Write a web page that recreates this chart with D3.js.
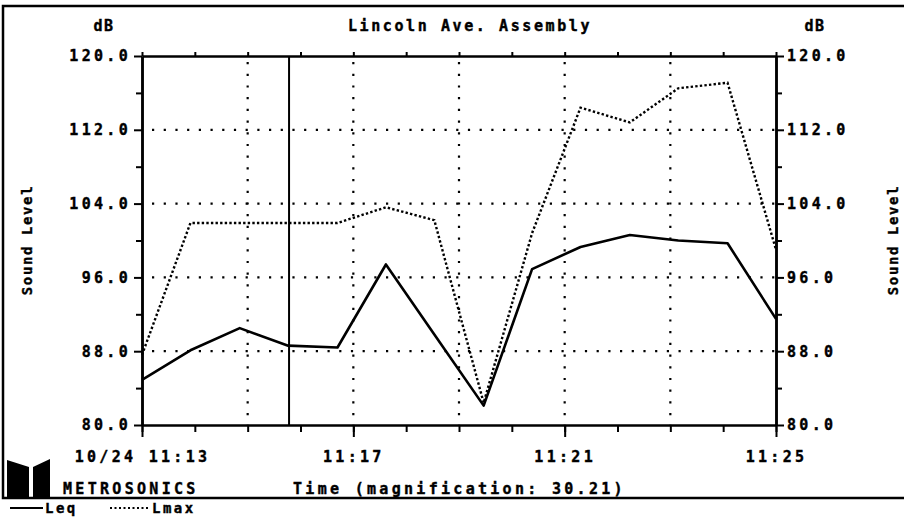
<!DOCTYPE html>
<html lang="en">
<head>
<meta charset="UTF-8">
<title>Lincoln Ave. Assembly</title>
<script src="https://d3js.org/d3.v7.min.js"></script>
<style>
  body { margin: 0; background: #fff; }
  svg text {
    font-family: "DejaVu Sans Mono", monospace;
    font-weight: bold;
    fill: #000;
    stroke: #000;
    stroke-width: 0.4px;
  }
  .axis path, .axis line { stroke: #000; }
</style>
</head>
<body>
<svg id="chart" width="904" height="518"></svg>
<script>
// Sample times (10/24) and sound levels in dB
const sampleTimes = ["11:13:00", "11:13:55", "11:14:51", "11:15:46", "11:16:42", "11:17:37", "11:18:32",
                     "11:19:28", "11:20:23", "11:21:18", "11:22:14", "11:23:09", "11:24:05", "11:25:00"];
const leq  = [84.9, 88.1, 90.5, 88.6, 88.4, 97.4, 89.8, 82.1, 96.9, 99.3, 100.6, 100.0, 99.7, 91.5];
const lmax = [87.6, 101.9, 101.9, 101.9, 101.9, 103.6, 102.2, 82.4, 100.8, 114.4, 112.8, 116.5, 117.1, 99.0];

const yTicks = [80, 88, 96, 104, 112, 120];
const yMinorTicks = [84, 92, 100, 108, 116];
const xTickTimes = ["11:13:00", "11:17:00", "11:21:00", "11:25:00"];
const xTickLabels = ["10/24 11:13", "11:17", "11:21", "11:25"];
const gridTimes = ["11:15:00", "11:17:00", "11:19:00", "11:21:00", "11:23:00"];
const gridLevels = [88, 96, 104, 112];
const cursorTimes = ["11:15:47"];

const parse = d3.timeParse("%H:%M:%S");

const plot = { left: 142, right: 776, top: 56, bottom: 425 };

const svg = d3.select("#chart");
svg.append("rect").attr("width", 904).attr("height", 518).attr("fill", "#fff");

const x = d3.scaleTime()
  .domain([parse("11:13:00"), parse("11:25:00")])
  .range([plot.left, plot.right]);

const y = d3.scaleLinear()
  .domain([80, 120])
  .range([plot.bottom, plot.top]);

// outer frame
svg.append("rect")
  .attr("x", 3).attr("y", 6)
  .attr("width", 906).attr("height", 492)
  .attr("fill", "none").attr("stroke", "#000").attr("stroke-width", 2.5);

// dotted grid
svg.append("g").selectAll("line")
  .data(gridLevels)
  .join("line")
  .attr("x1", plot.left + 10).attr("x2", plot.right)
  .attr("y1", d => y(d)).attr("y2", d => y(d))
  .attr("stroke", "#000").attr("stroke-width", 2.2)
  .attr("stroke-dasharray", "2.2,9.5");

svg.append("g").selectAll("line")
  .data(gridTimes)
  .join("line")
  .attr("x1", d => x(parse(d))).attr("x2", d => x(parse(d)))
  .attr("y1", plot.top + 6).attr("y2", plot.bottom)
  .attr("stroke", "#000").attr("stroke-width", 2.2)
  .attr("stroke-dasharray", "2.2,9.5");

// cursor
svg.append("g").selectAll("line")
  .data(cursorTimes)
  .join("line")
  .attr("x1", d => x(parse(d))).attr("x2", d => x(parse(d)))
  .attr("y1", plot.top).attr("y2", plot.bottom)
  .attr("stroke", "#000").attr("stroke-width", 2);

// axes
function styleAxis(g, width) {
  g.attr("class", "axis");
  g.select(".domain").attr("stroke-width", width);
  g.selectAll(".tick line").attr("stroke-width", 2);
  g.selectAll("text").style("font-size", "15px").style("letter-spacing", "3.3px");
}

// minute ticks, bottom and top
svg.append("g")
  .attr("transform", `translate(0,${plot.bottom})`)
  .call(d3.axisBottom(x).ticks(d3.timeMinute.every(1)).tickSize(7).tickSizeOuter(0).tickFormat(""))
  .call(g => styleAxis(g, 2.5));

svg.append("g")
  .attr("transform", `translate(0,${plot.top})`)
  .call(d3.axisTop(x).ticks(d3.timeMinute.every(1)).tickSize(4).tickSizeOuter(0).tickFormat(""))
  .call(g => styleAxis(g, 2.5));

svg.append("g")
  .attr("transform", `translate(0,${plot.bottom})`)
  .call(d3.axisBottom(x)
    .tickValues(xTickTimes.map(parse))
    .tickSize(12).tickSizeOuter(0).tickPadding(14)
    .tickFormat((d, i) => xTickLabels[i]))
  .call(g => styleAxis(g, 2.5))
  .call(g => g.select(".domain").remove());

// y axes, left and right
[[d3.axisLeft, plot.left], [d3.axisRight, plot.right]].forEach(([axisFn, pos]) => {
  svg.append("g")
    .attr("transform", `translate(${pos},0)`)
    .call(axisFn(y).tickValues(yTicks).tickSize(8).tickSizeOuter(0).tickPadding(3)
      .tickFormat(d3.format(".1f")))
    .call(g => styleAxis(g, 2.5));
  svg.append("g")
    .attr("transform", `translate(${pos},0)`)
    .call(axisFn(y).tickValues(yMinorTicks).tickSize(6).tickSizeOuter(0).tickFormat(""))
    .call(g => styleAxis(g, 2.5));
});

// series
const pts = (vals) => sampleTimes.map((t, i) => [parse(t), vals[i]]);
const line = d3.line().x(d => x(d[0])).y(d => y(d[1]));

svg.append("path")
  .datum(pts(lmax))
  .attr("d", line)
  .attr("fill", "none").attr("stroke", "#000")
  .attr("stroke-width", 2.4).attr("stroke-dasharray", "2.4,2.2");

svg.append("path")
  .datum(pts(leq))
  .attr("d", line)
  .attr("fill", "none").attr("stroke", "#000")
  .attr("stroke-width", 2.6).attr("stroke-linejoin", "round");

// headings
const txt = (xp, yp, s, anchor, size, spacing) => svg.append("text")
  .attr("x", xp).attr("y", yp)
  .attr("text-anchor", anchor || "start")
  .style("font-size", (size || 15) + "px")
  .style("letter-spacing", (spacing === undefined ? 3.3 : spacing) + "px")
  .text(s);

txt(104, 31, "dB", "middle", 15, 1.5);
txt(815, 31, "dB", "middle", 15, 1.5);
txt(470, 31, "Lincoln Ave. Assembly", "middle", 15, 2.6);

svg.append("text")
  .attr("transform", "translate(32,240) rotate(-90)")
  .attr("text-anchor", "middle")
  .style("font-size", "14px").style("letter-spacing", "1.6px")
  .text("Sound Level");
svg.append("text")
  .attr("transform", "translate(898,240) rotate(-90)")
  .attr("text-anchor", "middle")
  .style("font-size", "14px").style("letter-spacing", "1.6px")
  .text("Sound Level");

txt(63, 494, "METROSONICS");
txt(293, 494, "Time (magnification: 30.21)");

// logo
const logo = svg.append("g").attr("fill", "#000");
logo.append("polygon").attr("points", "7,460 29,467 29,497 7,497");
logo.append("polygon").attr("points", "33,467 50,459 50,497 33,497");

// legend
svg.append("line").attr("x1", 10).attr("x2", 43).attr("y1", 508).attr("y2", 508)
  .attr("stroke", "#000").attr("stroke-width", 2);
txt(45, 513, "Leq", "start", 14, 2.5);
svg.append("line").attr("x1", 110).attr("x2", 150).attr("y1", 508).attr("y2", 508)
  .attr("stroke", "#000").attr("stroke-width", 2).attr("stroke-dasharray", "2,2.5");
txt(152, 513, "Lmax", "start", 14, 2.5);
</script>
</body>
</html>
